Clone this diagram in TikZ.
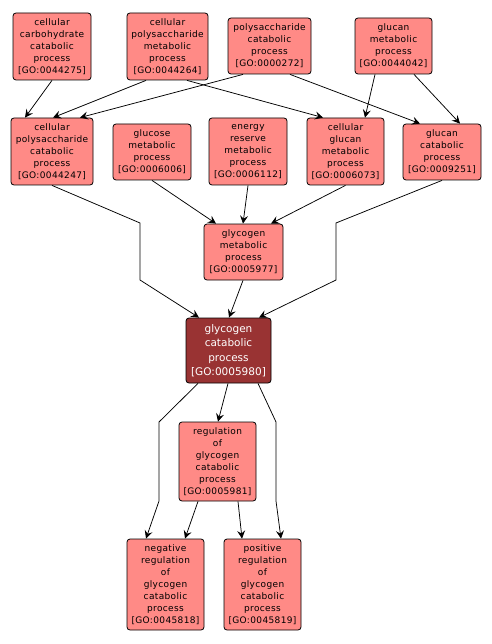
\documentclass[tikz,border=0pt]{standalone}
\usepackage{fontspec}
\newfontfamily\nodefont{DejaVu Sans}[LetterSpace=4.0]
\newfontfamily\bigfont{DejaVu Sans}
\usetikzlibrary{arrows.meta}
\definecolor{gofill}{RGB}{255,138,134}
\definecolor{godark}{RGB}{153,51,51}
\tikzset{
  gobox/.style={draw=black, line width=0.8pt, fill=gofill, rounded corners=3pt,
    inner sep=0pt, align=center, font=\nodefont\fontsize{9}{12}\selectfont, text=black},
  gomain/.style={gobox, fill=godark, text=white, font=\bigfont\fontsize{10.5}{14.5}\selectfont},
  arr/.style={draw=black, line width=0.75pt, -{Stealth[length=8pt,width=8pt,inset=3pt]}}
}
\begin{document}
\begin{tikzpicture}[x=1pt,y=-1pt]
\useasboundingbox (0,0) rectangle (491,644);
\node[gobox, minimum width=78pt, minimum height=67pt] (n1) at (52,46.5) {cellular\\carbohydrate\\catabolic\\process\\{[GO:0044275]}};
\node[gobox, minimum width=81pt, minimum height=67pt] (n2) at (167.5,46.5) {cellular\\polysaccharide\\metabolic\\process\\{[GO:0044264]}};
\node[gobox, minimum width=83pt, minimum height=56pt] (n3) at (269.5,46) {polysaccharide\\catabolic\\process\\{[GO:0000272]}};
\node[gobox, minimum width=77pt, minimum height=56pt] (n4) at (393.5,46) {glucan\\metabolic\\process\\{[GO:0044042]}};
\node[gobox, minimum width=82pt, minimum height=67pt] (n5) at (52,151.5) {cellular\\polysaccharide\\catabolic\\process\\{[GO:0044247]}};
\node[gobox, minimum width=78pt, minimum height=56pt] (n6) at (152,152) {glucose\\metabolic\\process\\{[GO:0006006]}};
\node[gobox, minimum width=78pt, minimum height=67pt] (n7) at (248,151.5) {energy\\reserve\\metabolic\\process\\{[GO:0006112]}};
\node[gobox, minimum width=77pt, minimum height=67pt] (n8) at (345.5,151.5) {cellular\\glucan\\metabolic\\process\\{[GO:0006073]}};
\node[gobox, minimum width=78pt, minimum height=56pt] (n9) at (442,152) {glucan\\catabolic\\process\\{[GO:0009251]}};
\node[gobox, minimum width=79pt, minimum height=56pt] (n10) at (243.5,252) {glycogen\\metabolic\\process\\{[GO:0005977]}};
\node[gomain, minimum width=85pt, minimum height=65pt] (n11) at (228.5,350.5) {glycogen\\catabolic\\process\\{[GO:0005980]}};
\node[gobox, minimum width=77pt, minimum height=79pt] (n12) at (217.5,461.5) {regulation\\of\\glycogen\\catabolic\\process\\{[GO:0005981]}};
\node[gobox, minimum width=77pt, minimum height=91pt] (n13) at (165.5,584.5) {negative\\regulation\\of\\glycogen\\catabolic\\process\\{[GO:0045818]}};
\node[gobox, minimum width=77pt, minimum height=91pt] (n14) at (262.5,584.5) {positive\\regulation\\of\\glycogen\\catabolic\\process\\{[GO:0045819]}};

\draw[arr] (n1.south) -- ([xshift=-27pt]n5.north);
\draw[arr] ([xshift=-21.5pt]n2.south) -- ([xshift=1pt]n5.north);
\draw[arr] ([xshift=-26.5pt]n3.south) -- ([xshift=28pt]n5.north);
\draw[arr] ([xshift=19.5pt]n2.south) -- ([xshift=-22.5pt]n8.north);
\draw[arr] ([xshift=20.5pt]n3.south) -- ([xshift=-22pt]n9.north);
\draw[arr] ([xshift=-18.5pt]n4.south) -- ([xshift=19.5pt]n8.north);
\draw[arr] ([xshift=20.5pt]n4.south) -- ([xshift=18pt]n9.north);
\draw[arr] (n6.south) -- ([xshift=-27.5pt]n10.north);
\draw[arr] (n7.south) -- ([xshift=-0.5pt]n10.north);
\draw[arr] (n8.south) -- ([xshift=27.5pt]n10.north);
\draw[arr] (n5.south) -- (140,223) -- (140,280) -- ([xshift=-29.5pt]n11.north);
\draw[arr] (n9.south) -- (336,223) -- (336,280) -- ([xshift=30.5pt]n11.north);
\draw[arr] ([xshift=-0.5pt]n10.south) -- ([xshift=0.5pt]n11.north);
\draw[arr] ([xshift=-0.5pt]n11.south) -- ([xshift=0.5pt]n12.north);
\draw[arr] ([xshift=-30.5pt]n11.south) -- (159,422) -- (159,501) -- ([xshift=-19.5pt]n13.north);
\draw[arr] ([xshift=29.5pt]n11.south) -- (276,422) -- (276,501) -- ([xshift=18.5pt]n14.north);
\draw[arr] ([xshift=-19.5pt]n12.south) -- ([xshift=19.5pt]n13.north);
\draw[arr] ([xshift=20.5pt]n12.south) -- ([xshift=-20.5pt]n14.north);
\end{tikzpicture}
\end{document}
